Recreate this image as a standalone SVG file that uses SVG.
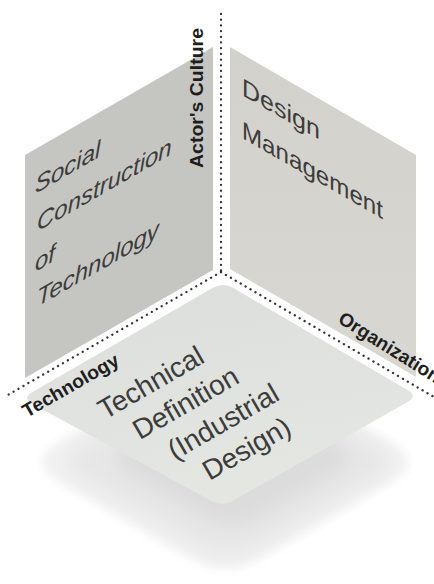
<svg xmlns="http://www.w3.org/2000/svg" width="434" height="584" viewBox="0 0 434 584">
  <defs>
    <style>
      .panel-text { font-family: "Liberation Sans", Arial, sans-serif; font-size: 24px; fill: #3c3c3c; }
      .floor-text { font-family: "Liberation Sans", Arial, sans-serif; font-size: 28px; fill: #3c3c3c; }
      .axis-label { font-family: "Liberation Sans", Arial, sans-serif; font-size: 19px; font-weight: bold; fill: #1e1e1e; }
      .dots { fill: none; stroke: #333333; stroke-width: 2.3; stroke-linecap: round; stroke-dasharray: 0.1 5.6; }
    </style>
    <filter id="blurL" x="-20%" y="-20%" width="140%" height="140%">
      <feGaussianBlur stdDeviation="5"/>
    </filter>
    <filter id="blurM" x="-20%" y="-20%" width="140%" height="140%">
      <feGaussianBlur stdDeviation="9"/>
    </filter>
    <filter id="blurS" x="-20%" y="-20%" width="140%" height="140%">
      <feGaussianBlur stdDeviation="0.6"/>
    </filter>
    <linearGradient id="floorGrad" x1="0" y1="0" x2="0.3" y2="1">
      <stop offset="0" stop-color="#dbdeda"/>
      <stop offset="1" stop-color="#e4e6e2"/>
    </linearGradient>
    <linearGradient id="rightGrad" x1="0" y1="0" x2="0" y2="1">
      <stop offset="0" stop-color="#d3d1cb"/>
      <stop offset="1" stop-color="#d8d7d1"/>
    </linearGradient>
  </defs>

  <rect width="434" height="584" fill="#ffffff"/>

  <!-- shadow under the floor -->
  <g id="shadow">
    <path filter="url(#blurL)" fill="#f1f1f1" d="M 190.5 365.2 Q 225 345 259.5 365.2 L 390.5 441.8 Q 425 462 390.5 482.2 L 259.5 558.8 Q 225 579 190.5 558.8 L 59.5 482.2 Q 25 462 59.5 441.8 Z"/>
    <path filter="url(#blurM)" fill="#e7e7e7" d="M 197.7 377.5 Q 228 360 258.3 377.5 L 374.7 444.5 Q 405 462 374.7 479.5 L 258.3 546.5 Q 228 564 197.7 546.5 L 81.3 479.5 Q 51 462 81.3 444.5 Z"/>
    <path filter="url(#blurM)" fill="#dcdcdc" d="M 206 398 Q 232 383 258 398 L 336 443 Q 362 458 336 473 L 258 518 Q 232 533 206 518 L 128 473 Q 102 458 128 443 Z"/>
  </g>

  <!-- left panel: Social Construction of Technology -->
  <g id="node-social">
    <polygon points="25,155 213,47 213,270 25,378" fill="#c5c5c1" filter="url(#blurS)"/>
    <g transform="matrix(1,-0.577,0,1,35,194)" class="panel-text" font-style="italic">
      <text x="0" y="0">Social</text>
      <text x="2" y="39">Construction</text>
      <text x="0" y="78">of</text>
      <text x="2" y="114">Technology</text>
    </g>
  </g>

  <!-- right panel: Design Management -->
  <g id="node-design">
    <polygon points="230,47 416,155 416,377 230,269" fill="url(#rightGrad)" filter="url(#blurS)"/>
    <g transform="matrix(1,0.577,0,1,242,95)" class="panel-text">
      <text x="0" y="0" font-size="25">Design</text>
      <text x="0" y="43" font-size="25" textLength="141" lengthAdjust="spacingAndGlyphs">Management</text>
    </g>
  </g>

  <!-- floor: Technical Definition (Industrial Design) -->
  <g id="node-technical">
    <path fill="url(#floorGrad)" filter="url(#blurS)" d="M 212.6 288 Q 223 282 233.4 288 L 407.6 390 Q 418 396 407.6 402 L 232.4 501 Q 222 507 211.6 501 L 32.4 404 Q 22 398 32.4 392 Z"/>
    <g transform="translate(105,420) rotate(-30)" class="floor-text">
      <text x="0" y="0">Technical</text>
      <text x="20" y="35">Definition</text>
      <text x="40" y="70">(Industrial</text>
      <text x="60" y="105">Design)</text>
    </g>
  </g>

  <!-- connectors: dotted axes -->
  <g id="connectors">
    <line class="dots" x1="221" y1="14" x2="221" y2="272"/>
    <line class="dots" x1="221" y1="272" x2="6" y2="396"/>
    <line class="dots" x1="221" y1="272" x2="434" y2="397"/>
  </g>

  <!-- axis labels -->
  <g id="label-actors">
    <text class="axis-label" transform="translate(203,168) rotate(-90)" textLength="140" lengthAdjust="spacingAndGlyphs">Actor's Culture</text>
  </g>
  <g id="label-technology">
    <text class="axis-label" transform="translate(27,418) rotate(-30)" textLength="108" lengthAdjust="spacingAndGlyphs">Technology</text>
  </g>
  <g id="label-organization">
    <text class="axis-label" transform="translate(337,322) rotate(32)">Organization</text>
  </g>
</svg>
